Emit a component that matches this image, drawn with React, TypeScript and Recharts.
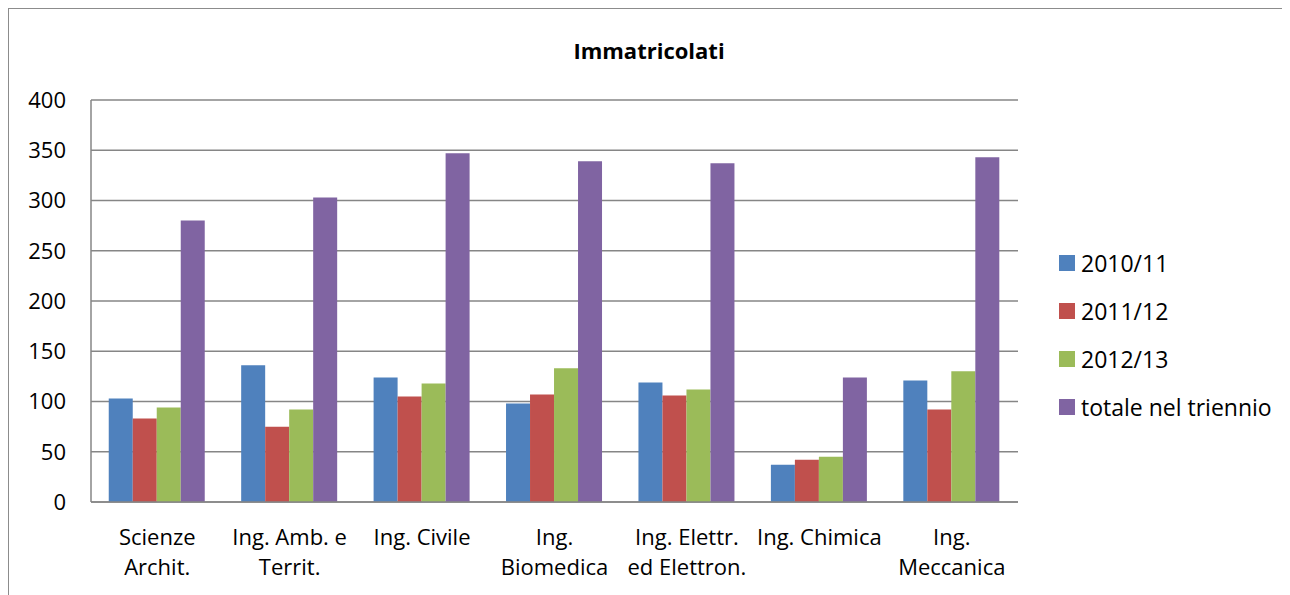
import React from "react";
import { Bar, BarChart, CartesianGrid, Legend, XAxis, YAxis } from "recharts";

const categories = [
  "Scienze\nArchit.",
  "Ing. Amb. e\nTerrit.",
  "Ing. Civile",
  "Ing.\nBiomedica",
  "Ing. Elettr.\ned Elettron.",
  "Ing. Chimica",
  "Ing.\nMeccanica",
];
const y2010 = [103, 136, 124, 98, 119, 37, 121];
const y2011 = [83, 75, 105, 107, 106, 42, 92];
const y2012 = [94, 92, 118, 133, 112, 45, 130];
const totale = [280, 303, 347, 339, 337, 124, 343];
const yTicks = [0, 50, 100, 150, 200, 250, 300, 350, 400];

const series = [
  { key: "a", name: "2010/11", color: "#4F81BD" },
  { key: "b", name: "2011/12", color: "#C0504D" },
  { key: "c", name: "2012/13", color: "#9BBB59" },
  { key: "d", name: "totale nel triennio", color: "#8064A2" },
];

const data = categories.map((cat, i) => ({
  cat,
  a: y2010[i],
  b: y2011[i],
  c: y2012[i],
  d: totale[i],
}));

const FONT = "'Open Sans', sans-serif";

function CatTick(props: any) {
  const { x, y, payload } = props;
  const lines = String(payload.value).split("\n");
  return (
    <text x={x} y={y} textAnchor="middle" fill="#000" fontSize={22} fontFamily={FONT}>
      {lines.map((l, i) => (
        <tspan key={i} x={x} dy={i === 0 ? 35 : 30}>
          {l}
        </tspan>
      ))}
    </text>
  );
}

function LegendBox() {
  return (
    <div style={{ fontFamily: FONT, fontSize: 23, color: "#000" }}>
      {series.map((s) => (
        <div key={s.key} style={{ display: "flex", alignItems: "center", height: 48 }}>
          <span style={{ width: 16, height: 16, background: s.color, marginRight: 6, display: "inline-block" }} />
          <span>{s.name}</span>
        </div>
      ))}
    </div>
  );
}

export default function App() {
  return (
    <div
      style={{
        position: "relative",
        width: 1280,
        height: 620,
        borderLeft: "1px solid #8c8c8c",
        borderTop: "1px solid #8c8c8c",
        borderRight: "1px solid #8c8c8c",
        boxSizing: "border-box",
        fontFamily: FONT,
      }}
    >
      <div
        style={{
          position: "absolute",
          left: 0,
          width: 1280,
          top: 26,
          textAlign: "center",
          fontWeight: 700,
          fontSize: 22,
        }}
      >
        Immatricolati
      </div>
      <div style={{ position: "absolute", left: 0, top: 0 }}>
        <BarChart
          width={1280}
          height={587}
          data={data}
          margin={{ top: 91, right: 41, bottom: 4, left: 0 }}
          barCategoryGap="13.4%"
          barGap={0}
        >
          <CartesianGrid vertical={false} stroke="#868686" strokeWidth={1.5} />
          <XAxis
            dataKey="cat"
            height={90}
            interval={0}
            tickLine={false}
            axisLine={{ stroke: "#868686", strokeWidth: 1.5 }}
            tick={<CatTick />}
          />
          <YAxis
            width={82}
            domain={[0, 400]}
            ticks={yTicks}
            tickLine={false}
            tickMargin={19}
            axisLine={{ stroke: "#868686", strokeWidth: 1.5 }}
            tick={{ fill: "#000", fontSize: 22, fontFamily: FONT }}
          />
          <Legend
            layout="vertical"
            align="right"
            verticalAlign="top"
            content={<LegendBox />}
            wrapperStyle={{ left: 1050, top: 230, width: 230 }}
          />
          {series.map((s) => (
            <Bar key={s.key} dataKey={s.key} name={s.name} fill={s.color} isAnimationActive={false} />
          ))}
        </BarChart>
      </div>
    </div>
  );
}
